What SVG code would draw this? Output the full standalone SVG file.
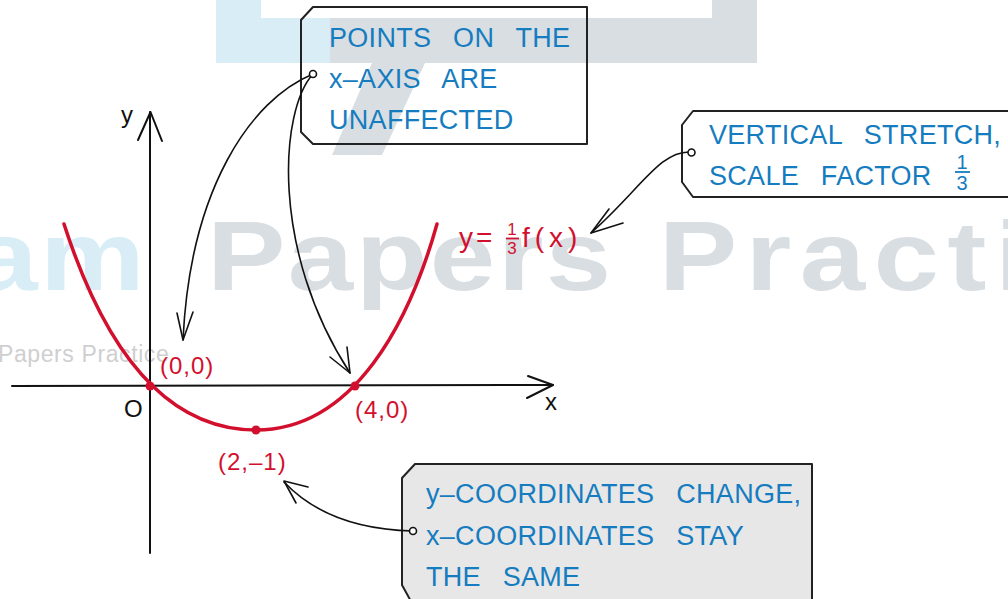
<svg xmlns="http://www.w3.org/2000/svg" width="1008" height="599" viewBox="0 0 1008 599">
<defs>
<style>
.wmg{fill:#d9dee3}
.wmb{fill:#d8edf6}
.wmt{font-family:"Liberation Sans",Arial,sans-serif;font-weight:700;font-size:98px;letter-spacing:2px}
.box{stroke:#222;stroke-width:2;stroke-linejoin:round}
.bt{font-family:"Liberation Sans",Arial,sans-serif;font-size:27px;fill:#167cc0;word-spacing:14px;letter-spacing:0.3px}
.frb{font-family:"Liberation Sans",Arial,sans-serif;font-size:20px;fill:#167cc0;text-anchor:middle}
.rt{font-family:"Liberation Sans",Arial,sans-serif;font-size:24px;fill:#d2102e;letter-spacing:1px}
.eq{font-family:"Liberation Sans",Arial,sans-serif;font-size:28px;fill:#d2102e}
.frr{font-family:"Liberation Sans",Arial,sans-serif;font-size:17px;fill:#d2102e;text-anchor:middle}
.kt{font-family:"Liberation Sans",Arial,sans-serif;font-size:24px;fill:#111}
.ax{stroke:#111;stroke-width:2;fill:none;stroke-linecap:round;stroke-linejoin:round}
.con{stroke:#111;stroke-width:1.6;fill:none;stroke-linecap:round;stroke-linejoin:round}
.dot{fill:#fff;stroke:#111;stroke-width:1.6}
</style>
</defs>
<rect width="1008" height="599" fill="#fff"/>
<g id="watermark">
<rect x="216" y="0" width="114" height="63" class="wmb"/>
<rect x="330" y="0" width="427" height="63" class="wmg"/>
<rect x="261" y="0" width="451" height="18" fill="#fff"/>
<polygon points="372,63 425,63 382,155 332,155" class="wmg"/>
<g transform="scale(1.2,1)">
<text x="122.5" y="290" class="wmt wmb" text-anchor="end">Exam</text>
<text x="172.5" y="290" class="wmt wmg">Papers</text>
<text x="549" y="290" class="wmt wmg" style="letter-spacing:7px">Practice</text>
</g>
<text x="-2" y="362" font-family="'Liberation Sans',Arial,sans-serif" font-size="23" letter-spacing="0.6" fill="#cfcfcf">Papers Practice</text>
</g>
<g id="axes">
<path class="ax" d="M150,112 L150,553"/>
<path class="ax" d="M138,140 L150.5,112 L162,141"/>
<path class="ax" d="M12,386 L553,385"/>
<path class="ax" d="M528,376 L553,385 L527,398"/>
<text x="121" y="123" class="kt">y</text>
<text x="545" y="410" class="kt">x</text>
<text x="124" y="417" class="kt">O</text>
</g>
<g id="curve">
<path d="M64,224 C95,320 150,430 256,430 C355,430 410,320 437,224" fill="none" stroke="#d2102e" stroke-width="3.5" stroke-linecap="round"/>
<circle cx="150" cy="386" r="4.5" fill="#d2102e"/>
<circle cx="256" cy="430" r="4.5" fill="#d2102e"/>
<circle cx="355" cy="386" r="4.5" fill="#d2102e"/>
<text x="160" y="374" class="rt">(0,0)</text>
<text x="355" y="418" class="rt">(4,0)</text>
<text x="218" y="470" class="rt">(2,–1)</text>
<g id="eqn">
<text x="459" y="247" class="eq" style="letter-spacing:3px">y=</text>
<text x="512" y="235" class="frr">1</text>
<path d="M506,238.5 L519,238.5" stroke="#d2102e" stroke-width="1.8"/>
<text x="512" y="254" class="frr">3</text>
<text x="522" y="247" class="eq" style="letter-spacing:5px">f(x)</text>
</g>
</g>
<g id="box1">
<polygon class="box" fill="none" points="313,7 587,7 587,144 313,144 301,132 301,20"/>
<text class="bt"><tspan x="329" y="47">POINTS ON THE</tspan><tspan x="329" y="88">x–AXIS ARE</tspan><tspan x="329" y="129">UNAFFECTED</tspan></text>
</g>
<g id="box2">
<polygon class="box" fill="#fff" points="693,111 1012,111 1012,197 693,197 682,182 682,125"/>
<text class="bt"><tspan x="709" y="144">VERTICAL STRETCH,</tspan><tspan x="709" y="185">SCALE FACTOR</tspan></text>
<text x="962" y="169" class="frb">1</text>
<path d="M955,172 L970,172" stroke="#167cc0" stroke-width="1.8"/>
<text x="962" y="190" class="frb">3</text>
</g>
<g id="box3">
<polygon class="box" fill="#e7e7e7" points="415,464 812,464 812,605 413,605 402,585 402,478"/>
<text class="bt"><tspan x="426" y="503">y–COORDINATES CHANGE,</tspan><tspan x="426" y="545">x–COORDINATES STAY</tspan><tspan x="426" y="586">THE SAME</tspan></text>
</g>
<g id="connectors">
<path class="con" d="M313,74 C250,100 190,190 183,340"/>
<path class="con" d="M177,313 L183,340 L193,312"/>
<path class="con" d="M313,74 C280,110 270,250 350,373"/>
<path class="con" d="M330,357 L350,373 L347,347"/>
<path class="con" d="M691,152 C660,150 640,190 591,233"/>
<path class="con" d="M609,209 L591,233 L623,223"/>
<path class="con" d="M413,531 C370,530 320,520 284,482"/>
<path class="con" d="M308,487 L284,481 L296,503"/>
<circle class="dot" cx="313" cy="74" r="3.5"/>
<circle class="dot" cx="691.5" cy="152.5" r="3.5"/>
<circle class="dot" cx="413" cy="531" r="3.5"/>
</g>
</svg>
